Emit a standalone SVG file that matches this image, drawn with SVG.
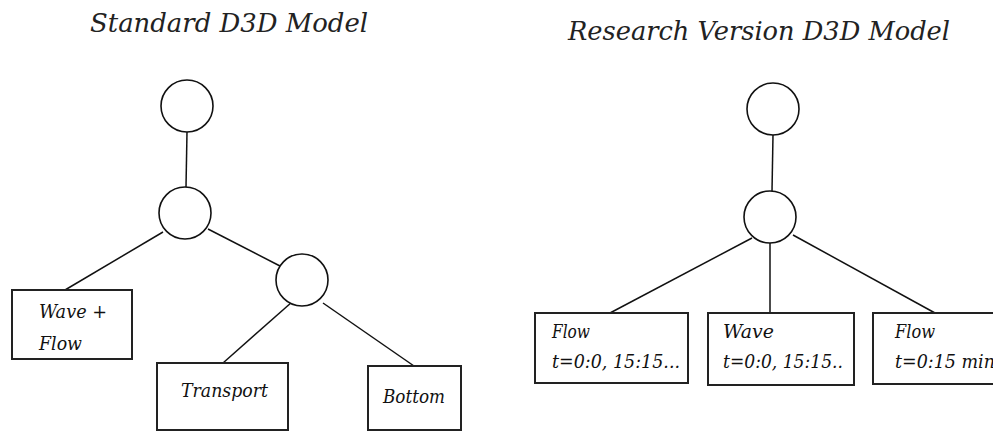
<svg xmlns="http://www.w3.org/2000/svg" width="993" height="432" viewBox="0 0 993 432">
<style>
  .bg { fill: #ffffff; }
  .circ { fill: #ffffff; stroke: #111111; stroke-width: 1.6; }
  .box { fill: #ffffff; stroke: #222222; stroke-width: 2; }
  .edge { stroke: #111111; stroke-width: 1.5; fill: none; }
  .title { font-family: "DejaVu Serif", "Liberation Serif", serif; font-style: italic; font-size: 26px; fill: #222222; }
  .lbl { font-family: "DejaVu Serif", "Liberation Serif", serif; font-style: italic; font-size: 18px; fill: #111111; }
</style>
<rect class="bg" x="0" y="0" width="993" height="432"/>

<text class="title" x="90" y="32" textLength="278" lengthAdjust="spacingAndGlyphs">Standard D3D Model</text>
<text class="title" x="568" y="40" textLength="382" lengthAdjust="spacingAndGlyphs">Research Version D3D Model</text>

<g id="connectors">
  <line class="edge" x1="187" y1="132" x2="186" y2="187"/>
  <line class="edge" x1="163" y1="232" x2="65" y2="290"/>
  <line class="edge" x1="208" y1="229" x2="280" y2="266"/>
  <line class="edge" x1="292" y1="302" x2="223" y2="363"/>
  <line class="edge" x1="323" y1="303" x2="414" y2="366"/>
  <line class="edge" x1="773" y1="135" x2="772" y2="191"/>
  <line class="edge" x1="752" y1="238" x2="610" y2="313"/>
  <line class="edge" x1="770" y1="243" x2="770" y2="313"/>
  <line class="edge" x1="793" y1="235" x2="935" y2="313"/>
</g>

<g id="std-root"><circle class="circ" cx="187" cy="106" r="26"/></g>
<g id="std-mid"><circle class="circ" cx="185" cy="213" r="26"/></g>
<g id="std-sub"><circle class="circ" cx="302" cy="280" r="26"/></g>

<g id="std-waveflow">
  <rect class="box" x="12" y="290" width="120" height="69"/>
  <text class="lbl" x="39" y="318" textLength="68" lengthAdjust="spacingAndGlyphs">Wave +</text>
  <text class="lbl" x="39" y="350" textLength="43" lengthAdjust="spacingAndGlyphs">Flow</text>
</g>
<g id="std-transport">
  <rect class="box" x="157" y="363" width="131" height="67"/>
  <text class="lbl" x="181" y="397" textLength="87" lengthAdjust="spacingAndGlyphs">Transport</text>
</g>
<g id="std-bottom">
  <rect class="box" x="368" y="366" width="93" height="64"/>
  <text class="lbl" x="383" y="403" textLength="62" lengthAdjust="spacingAndGlyphs">Bottom</text>
</g>

<g id="res-root"><circle class="circ" cx="773" cy="109" r="26"/></g>
<g id="res-mid"><circle class="circ" cx="770" cy="217" r="26"/></g>

<g id="res-flow1">
  <rect class="box" x="535" y="313" width="153" height="70"/>
  <text class="lbl" x="552" y="338" textLength="38" lengthAdjust="spacingAndGlyphs">Flow</text>
  <text class="lbl" x="552" y="368" textLength="128" lengthAdjust="spacingAndGlyphs">t=0:0, 15:15...</text>
</g>
<g id="res-wave">
  <rect class="box" x="708" y="313" width="146" height="72"/>
  <text class="lbl" x="723" y="338" textLength="51" lengthAdjust="spacingAndGlyphs">Wave</text>
  <text class="lbl" x="723" y="368" textLength="120" lengthAdjust="spacingAndGlyphs">t=0:0, 15:15..</text>
</g>
<g id="res-flow2">
  <rect class="box" x="873" y="313" width="140" height="71"/>
  <text class="lbl" x="895" y="338" textLength="40" lengthAdjust="spacingAndGlyphs">Flow</text>
  <text class="lbl" x="895" y="368" textLength="100" lengthAdjust="spacingAndGlyphs">t=0:15 min</text>
</g>
</svg>
